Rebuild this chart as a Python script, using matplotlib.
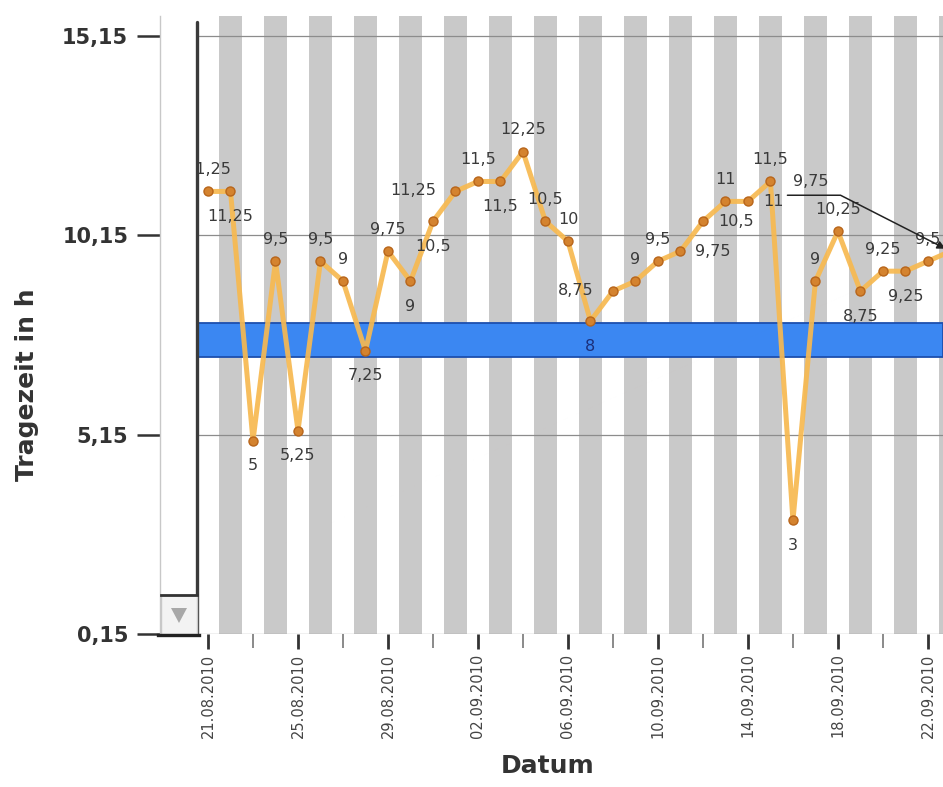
import matplotlib
matplotlib.use("Agg")
import matplotlib.pyplot as plt
from matplotlib.patches import Rectangle, Polygon
from matplotlib.lines import Line2D

# --- data ---------------------------------------------------------------
# one value per day, 21.08.2010 ... 23.09.2010 (last one is cut off on the right)
tragezeit = [11.25, 11.25, 5, 9.5, 5.25, 9.5, 9, 7.25, 9.75, 9, 10.5, 11.25,
             11.5, 11.5, 12.25, 10.5, 10, 8, 8.75, 9, 9.5, 9.75, 10.5, 11,
             11, 11.5, 3, 9, 10.25, 8.75, 9.25, 9.25, 9.5, 9.75]
date_labels = ["21.08.2010", "25.08.2010", "29.08.2010", "02.09.2010",
               "06.09.2010", "10.09.2010", "14.09.2010", "18.09.2010",
               "22.09.2010"]
y_ticks = [0.15, 5.15, 10.15, 15.15]
y_ticklabels = ["0,15", "5,15", "10,15", "15,15"]
ziel_lo, ziel_hi = 7.1, 7.95          # blue target band

# where each value label sits: a=above, b=below, l=left, r=right, c=callout
label_pos = ["a", "b", "b", "a", "b", "a", "a", "b", "a", "b", "b", "l",
             "a", "b", "a", "a", "a", "b", "l", "a", "a", "r", "r", "a",
             "r", "a", "b", "a", "a", "b", "a", "b", "a", "c"]

W, H = 943, 787
def px(x, y):
    return x / W, 1 - y / H

fig = plt.figure(figsize=(W / 100, H / 100), dpi=100)
ax = fig.add_axes([197 / W, 1 - 634 / H, (943 - 197) / W, (634 - 16) / H])

n = len(tragezeit)
xs = list(range(n))
ax.set_xlim(-0.489, 32.67)
ax.set_ylim(0.15, 15.65)

# alternating day stripes
for i in range(1, n, 2):
    ax.axvspan(i - 0.53, i + 0.53, color="#c9c9c9", lw=0, zorder=0)

ax.axhspan(ziel_lo, ziel_hi, facecolor="#3b87f2", edgecolor="#1d4fae",
           lw=1.3, zorder=1)

ax.plot(xs, tragezeit, "-", color="#f7b950", lw=3.6, alpha=0.92,
        solid_joinstyle="round", zorder=2)
ax.plot(xs, tragezeit, "o", ms=6.5, mfc="#d4832f", mec="#b8651a", mew=1,
        zorder=3)

lab_kw = dict(fontsize=11.5, color="#3a3a3a", zorder=5)
offs = {"a": (0, 22, "center"), "b": (0, -25, "center"),
        "l": (-19, 1, "right"), "r": (15, 0, "left")}
for x, v, p in zip(xs, tragezeit, label_pos):
    txt = f"{v:g}".replace(".", ",")
    if p == "c":
        # callout: text with an underline that bends down to the point
        ax.annotate(txt, xy=(x, v), xytext=(-140, 70), textcoords="offset pixels",
                    ha="center", va="center", annotation_clip=False, **lab_kw)
        ax.annotate("", xy=(x, v), xytext=(-163, 56), textcoords="offset pixels",
                    annotation_clip=False, zorder=5,
                    arrowprops=dict(arrowstyle="-|>", color="#222222", lw=1.1,
                                    shrinkA=0, shrinkB=4, mutation_scale=12,
                                    connectionstyle="angle,angleA=0,angleB=153,rad=0"))
        continue
    dx, dy, ha = offs[p]
    kw = dict(lab_kw)
    if p == "b" and ziel_lo <= v - 0.63 <= ziel_hi:
        kw["color"] = "#1b2f7a"   # label sitting on the blue band
    ax.annotate(txt, xy=(x, v), xytext=(dx, dy), textcoords="offset pixels",
                ha=ha, va="center", clip_on=True, **kw)

# axes styling
for s in ("top", "right", "bottom"):
    ax.spines[s].set_visible(False)
ax.spines["left"].set_position(("outward", 26.5))
ax.spines["left"].set_color("#c8c8c8")
ax.spines["left"].set_linewidth(1)

ax.set_yticks(y_ticks)
ax.set_yticklabels(y_ticklabels, fontweight="bold", fontsize=15, color="#333333")
ax.tick_params(axis="y", direction="out", length=16.5, width=1.8,
               color="#333333", pad=6.5)
ax.yaxis.grid(True, color="#8c8c8c", lw=0.9)
ax.set_axisbelow(True)

ax.set_xticks(xs[0:33:4])
ax.set_xticklabels(date_labels, rotation=90, fontsize=10.5, color="#444444")
ax.set_xticks(xs[2:33:4], minor=True)
ax.tick_params(axis="x", which="major", direction="out", length=11, width=2,
               color="#333333", pad=3)
ax.tick_params(axis="x", which="minor", direction="out", length=10, width=1.2,
               color="#777777")

# dark frame line on the left of the plot area
ax.plot([0, 0], [0, 612 / 618], transform=ax.transAxes, color="#3a3a3a",
        lw=2.4, solid_capstyle="round", clip_on=False, zorder=6)

# small scroll button in the lower left corner
fig.add_artist(Rectangle(px(161, 634), 36 / W, 39 / H, transform=fig.transFigure,
                         facecolor="#f3f3f3", edgecolor="#c8c8c8", lw=1))
fig.add_artist(Line2D([px(161, 0)[0], px(197, 0)[0]], [px(0, 595)[1]] * 2,
                      transform=fig.transFigure, color="#333333", lw=2))
fig.add_artist(Line2D([px(158, 0)[0], px(199, 0)[0]], [px(0, 635)[1]] * 2,
                      transform=fig.transFigure, color="#222222", lw=2.4))
fig.add_artist(Polygon([px(171, 608), px(187, 608), px(179, 623)], closed=True,
                       transform=fig.transFigure, facecolor="#a8a8a8",
                       edgecolor="none"))

fig.text(*px(27, 385), "Tragezeit in h", rotation=90, ha="center", va="center",
         fontsize=18, fontweight="bold", color="#333333")
fig.text(*px(548, 766), "Datum", ha="center", va="center",
         fontsize=18, fontweight="bold", color="#333333")

fig.savefig("out.png", dpi=100)
